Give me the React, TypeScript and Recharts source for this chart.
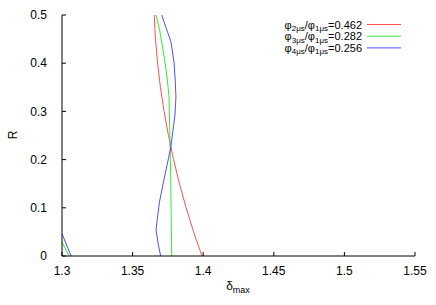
import React from 'react';
import { LineChart, Line, XAxis, YAxis, Customized } from 'recharts';

// Series values: R (y) and delta_max (x), ordered along each curve
const redR = [0, 0.05, 0.1, 0.15, 0.2, 0.25, 0.3, 0.35, 0.4, 0.45, 0.5];
const redX = [1.3991, 1.3932, 1.3879, 1.3832, 1.3790, 1.3754, 1.3723, 1.3697, 1.3677, 1.3662, 1.3653];

const greenR = [0, 0.158, 0.261, 0.33, 0.365, 0.4, 0.438, 0.469, 0.5];
const greenX = [1.3777, 1.3770, 1.3763, 1.3758, 1.3746, 1.3730, 1.3710, 1.3691, 1.3666];

const blueR = [0, 0.0234, 0.0546, 0.11, 0.158, 0.189, 0.224, 0.261, 0.2925, 0.33, 0.365, 0.4025, 0.444, 0.5];
const blueX = [1.3699, 1.3682, 1.3666, 1.3689, 1.3722, 1.3744, 1.3770, 1.3786, 1.3800, 1.3807, 1.3802, 1.3793, 1.3772, 1.3706];

const greenLeftR = [0.029, 0];
const greenLeftX = [1.3, 1.305];
const blueLeftR = [0.046, 0];
const blueLeftX = [1.3, 1.3065];

const xTicks = [1.3, 1.35, 1.4, 1.45, 1.5, 1.55];
const yTicks = [0, 0.1, 0.2, 0.3, 0.4, 0.5];

const legendNum = ['2', '3', '4'];
const legendVal = ['0.462', '0.282', '0.256'];
const colors = ['#ff5050', '#30f030', '#5050ff'];

const toPts = (xs: number[], rs: number[]) => xs.map((x, i) => ({ x, R: rs[i] }));

const FONT = '"Liberation Sans", Arial, Helvetica, sans-serif';

const Overlay = () => (
  <g fontFamily={FONT} fill="#000">
    {legendNum.map((n, i) => {
      const cy = 24.5 + i * 11.7;
      return (
        <g key={n}>
          <text x={362} y={cy + 4} textAnchor="end" fontSize={11}>
            φ<tspan fontSize={8} dy={2.5}>{n}μs</tspan>
            <tspan dy={-2.5}>/φ</tspan>
            <tspan fontSize={8} dy={2.5}>1μs</tspan>
            <tspan dy={-2.5}>={legendVal[i]}</tspan>
          </text>
          <line x1={367} x2={401} y1={cy} y2={cy} stroke={colors[i]} strokeWidth={1} />
        </g>
      );
    })}
    <text x={238} y={290} textAnchor="middle" fontSize={12}>
      δ<tspan fontSize={9} dy={3}>max</tspan>
    </text>
    <text transform="translate(17,135) rotate(-90)" textAnchor="middle" fontSize={12}>R</text>
  </g>
);

export default function App() {
  const tickStyle = { fontSize: 12, fontFamily: FONT, fill: '#000' };
  return (
    <div style={{ position: 'absolute', left: 0, top: 0, background: '#fff' }}>
      <LineChart width={436} height={305} margin={{ top: 15, right: 21, bottom: 0, left: 0 }}>
        <XAxis
          xAxisId="b"
          dataKey="x"
          type="number"
          domain={[1.3, 1.55]}
          ticks={xTicks}
          allowDataOverflow
          height={49}
          tickSize={-4}
          tickMargin={14}
          tick={tickStyle}
          stroke="#000"
          tickLine={{ stroke: '#000' }}
          axisLine={{ stroke: '#000' }}
        />
        <XAxis
          xAxisId="t"
          orientation="top"
          dataKey="x"
          type="number"
          domain={[1.3, 1.55]}
          ticks={xTicks}
          allowDataOverflow
          height={0}
          tickSize={-4}
          tickFormatter={() => ''}
          stroke="#000"
        />
        <YAxis
          yAxisId="l"
          dataKey="R"
          type="number"
          domain={[0, 0.5]}
          ticks={yTicks}
          allowDataOverflow
          width={62}
          tickSize={-4}
          tickMargin={19}
          tick={tickStyle}
          stroke="#000"
        />
        <YAxis
          yAxisId="r"
          orientation="right"
          dataKey="R"
          type="number"
          domain={[0, 0.5]}
          ticks={yTicks}
          allowDataOverflow
          width={0}
          tickSize={-4}
          tickFormatter={() => ''}
          stroke="#000"
        />
        <Line xAxisId="b" yAxisId="l" data={toPts(redX, redR)} dataKey="R" stroke={colors[0]} strokeWidth={1} dot={false} isAnimationActive={false} />
        <Line xAxisId="b" yAxisId="l" data={toPts(greenX, greenR)} dataKey="R" stroke={colors[1]} strokeWidth={1} dot={false} isAnimationActive={false} />
        <Line xAxisId="b" yAxisId="l" data={toPts(blueX, blueR)} dataKey="R" stroke={colors[2]} strokeWidth={1} dot={false} isAnimationActive={false} />
        <Line xAxisId="b" yAxisId="l" data={toPts(greenLeftX, greenLeftR)} dataKey="R" stroke={colors[1]} strokeWidth={1} dot={false} isAnimationActive={false} />
        <Line xAxisId="b" yAxisId="l" data={toPts(blueLeftX, blueLeftR)} dataKey="R" stroke={colors[2]} strokeWidth={1} dot={false} isAnimationActive={false} />
        <Line xAxisId="t" yAxisId="r" data={[]} dataKey="R" stroke="none" dot={false} isAnimationActive={false} legendType="none" />
        <Customized component={Overlay} />
      </LineChart>
    </div>
  );
}
